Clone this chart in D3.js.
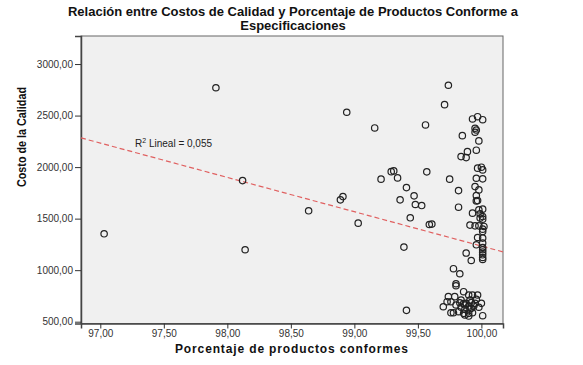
<!DOCTYPE html>
<html><head><meta charset="utf-8">
<script src="https://cdn.jsdelivr.net/npm/d3@7"></script>
<style>body{margin:0;background:#fff;} svg{display:block;font-family:"Liberation Sans",Arial,sans-serif;}</style>
</head><body>
<script>
const titleLines = ["Relación entre Costos de Calidad y Porcentaje de Productos Conforme a", "Especificaciones"];
const xLabel = "Porcentaje de productos conformes";
const yLabel = "Costo de la Calidad";
const xTicks = [97, 97.5, 98, 98.5, 99, 99.5, 100];
const yTicks = [500, 1000, 1500, 2000, 2500, 3000];
const r2Label = "0,055";
// fitted line: cost = intercept + slope * pct
const fitIntercept = 34534;
const fitSlope = -333;

const pct = [
 97.03, 97.91, 98.14, 98.12, 98.64, 98.89, 98.91, 98.94, 99.03, 99.16,
 99.21, 99.29, 99.31, 99.34, 99.41, 99.36, 99.47, 99.48, 99.53, 99.44,
 99.39, 99.41, 99.74, 99.71, 99.56, 99.93, 99.97, 100.01, 99.95, 99.96,
 99.95, 99.85, 99.98, 99.89, 99.96, 99.84, 99.88, 99.57, 99.75, 99.97,
 100.00, 100.01, 99.96, 100.01, 99.82, 99.95, 99.98, 99.96, 99.96, 99.97,
 99.82, 99.93, 99.98, 100.01, 99.99, 100.01, 99.99, 100.01, 99.59, 99.61,
 99.91, 99.95, 99.98, 100.02, 100.01, 100.01, 99.97, 100.01, 99.96, 100.01,
 100.01, 100.01, 100.01, 100.01, 100.01, 100.01, 99.88, 99.92, 99.78, 99.83,
 99.80, 99.80, 99.70, 99.74, 99.76, 99.73, 99.79, 99.83, 99.86, 99.90,
 99.93, 99.97, 99.95, 100.00, 99.98, 99.92, 99.87, 99.84, 99.82, 99.86,
 99.90, 99.93, 100.01, 99.88, 99.84, 99.91, 99.80, 99.96, 99.76, 99.87,
 99.90, 99.87, 99.90, 99.94, 99.91, 99.86, 99.92, 99.78
];
const cost = [
 1353, 2770, 1198, 1869, 1576, 1682, 1714, 2532, 1456, 2380,
 1883, 1956, 1963, 1895, 1801, 1682, 1721, 1637, 1627, 1508,
 1224, 610, 2794, 2606, 2409, 2467, 2489, 2460, 2377, 2360,
 2338, 2305, 2254, 2150, 2164, 2102, 2092, 1954, 1883, 1990,
 1999, 1973, 1892, 1886, 1772, 1811, 1779, 1724, 1672, 1675,
 1611, 1553, 1585, 1592, 1546, 1520, 1505, 1495, 1443, 1447,
 1437, 1430, 1430, 1424, 1398, 1375, 1317, 1311, 1246, 1263,
 1220, 1198, 1175, 1149, 1123, 1104, 1166, 1094, 1014, 965,
 868, 849, 645, 743, 694, 694, 743, 684, 791, 759,
 759, 759, 678, 678, 640, 630, 620, 640, 597, 581,
 581, 587, 558, 678, 710, 710, 662, 717, 587, 565,
 555, 662, 652, 652, 623, 675, 685, 587
];

const W = 583, H = 365;
const plot = {left: 81, right: 503, top: 36, bottom: 323.5};
const svg = d3.select("body").append("svg").attr("width", W).attr("height", H);

const x = d3.scaleLinear().domain([96.848, 100.17]).range([plot.left, plot.right]);
const y = d3.scaleLinear().domain([482.5, 3272]).range([plot.bottom, plot.top]);
const fmt = v => d3.format(".2f")(v).replace(".", ",");

// title
svg.append("g").selectAll("text").data(titleLines).join("text")
  .attr("x", 293).attr("y", (d, i) => 16 + i * 14)
  .attr("text-anchor", "middle").attr("font-weight", "bold").attr("font-size", 13)
  .attr("fill", "#111").text(d => d);

// plot background
svg.append("rect").attr("x", plot.left).attr("y", plot.top)
  .attr("width", plot.right - plot.left).attr("height", plot.bottom - plot.top)
  .attr("fill", "#f0f0f0").attr("stroke", "#666").attr("stroke-width", 1);

// axes
const yAxis = d3.axisLeft(y).tickValues(yTicks).tickFormat(fmt).tickSize(6).tickPadding(2);
const gy = svg.append("g").attr("transform", `translate(${plot.left},0)`).call(yAxis);
gy.select(".domain").attr("stroke", "#444").attr("stroke-width", 1.5);
gy.selectAll(".tick line").attr("stroke", "#333");
gy.selectAll(".tick text").attr("font-size", 10).attr("fill", "#333").attr("font-family", "Liberation Sans, Arial, sans-serif");

const xAxis = d3.axisBottom(x).tickValues(xTicks).tickFormat(fmt).tickSize(5).tickPadding(1);
const gx = svg.append("g").attr("transform", `translate(0,${plot.bottom})`).call(xAxis);
gx.select(".domain").attr("stroke", "#444").attr("stroke-width", 1.5);
gx.selectAll(".tick line").attr("stroke", "#333");
gx.selectAll(".tick text").attr("font-size", 10).attr("fill", "#333").attr("font-family", "Liberation Sans, Arial, sans-serif");

// axis titles
svg.append("text").attr("x", 291.5).attr("y", 353).attr("text-anchor", "middle")
  .attr("font-weight", "bold").attr("font-size", 12).attr("fill", "#111")
  .attr("textLength", 233).attr("lengthAdjust", "spacing").text(xLabel);
svg.append("text").attr("transform", "translate(26,137) rotate(-90)").attr("text-anchor", "middle")
  .attr("font-weight", "bold").attr("font-size", 12).attr("fill", "#111")
  .attr("textLength", 100).attr("lengthAdjust", "spacingAndGlyphs").text(yLabel);

// fit line
const xd = x.domain();
svg.append("line")
  .attr("x1", x(xd[0])).attr("y1", y(fitIntercept + fitSlope * xd[0]))
  .attr("x2", x(xd[1])).attr("y2", y(fitIntercept + fitSlope * xd[1]))
  .attr("stroke", "#e06060").attr("stroke-width", 1.2).attr("stroke-dasharray", "5,3");

// R² label
const rt = svg.append("text").attr("x", 135).attr("y", 147).attr("font-size", 10).attr("fill", "#222");
rt.append("tspan").text("R");
rt.append("tspan").attr("dy", -4).attr("font-size", 7).text("2");
rt.append("tspan").attr("dy", 4).text(" Lineal = " + r2Label);

// points
svg.append("g").selectAll("circle").data(pct.map((p, i) => [p, cost[i]])).join("circle")
  .attr("cx", d => x(d[0])).attr("cy", d => y(d[1])).attr("r", 3.2)
  .attr("fill", "none").attr("stroke", "#222").attr("stroke-width", 1.2);
</script>
</body></html>
